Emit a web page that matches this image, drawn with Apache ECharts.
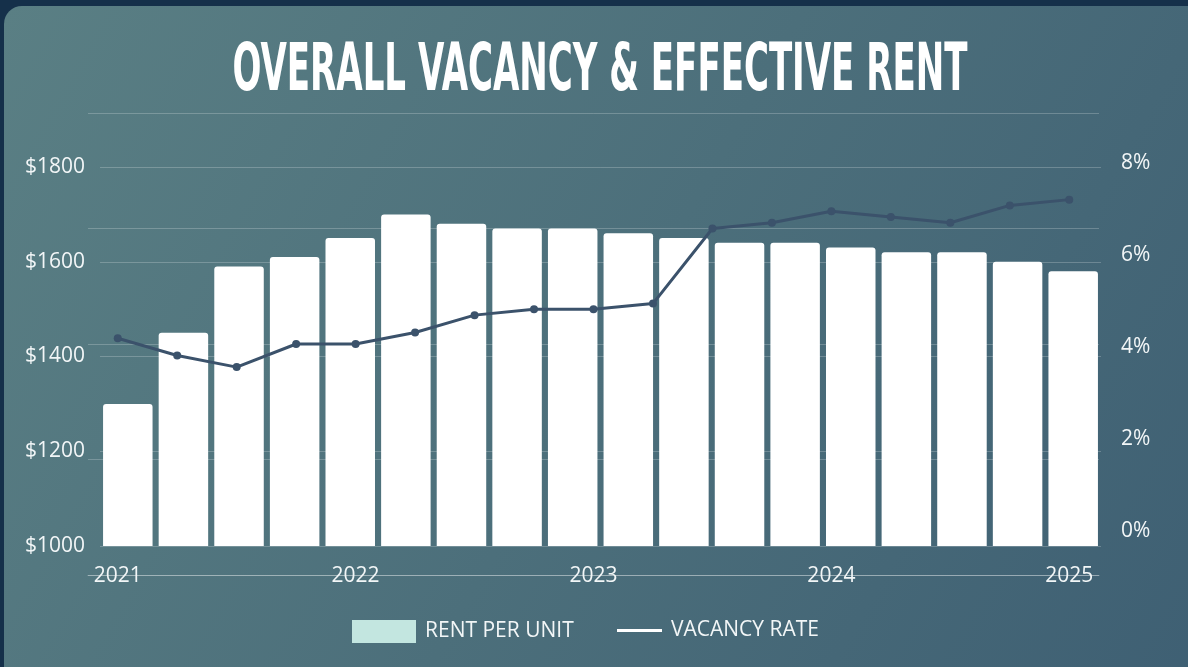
<!DOCTYPE html>
<html>
<head>
<meta charset="utf-8">
<script src="https://cdn.jsdelivr.net/npm/echarts@6/dist/echarts.min.js"></script>
<style>
  html, body { margin: 0; padding: 0; background: #15304a; }
  #chart { width: 1188px; height: 667px; }
</style>
</head>
<body>
<div id="chart"></div>
<script>
// rent per unit, 18 bars
const rentPerUnit = [1300, 1450, 1590, 1610, 1650, 1700, 1680, 1670, 1670, 1660, 1650, 1640, 1640, 1630, 1620, 1620, 1600, 1580]
const rentSlots = rentPerUnit.map((v, i) => 'R' + (i + 1))

// vacancy rate (%), quarterly 2021 Q1 .. 2025 Q1
const quarters = ['2021', 'Q2', 'Q3', 'Q4', '2022', 'Q2', 'Q3', 'Q4', '2023', 'Q2', 'Q3', 'Q4', '2024', 'Q2', 'Q3', 'Q4', '2025']
const vacancyRate = [4.1, 3.8, 3.6, 4.0, 4.0, 4.2, 4.5, 4.6, 4.6, 4.7, 6.0, 6.1, 6.3, 6.2, 6.1, 6.4, 6.5]

const labelFont = 'Open Sans'
const gridLine = 'rgba(255,255,255,0.22)'

const myChart = echarts.init(document.getElementById('chart'))

const option = {
  backgroundColor: '#15304a',
  animation: false,
  graphic: [
    {
      type: 'rect',
      z: -10,
      silent: true,
      shape: { x: 4, y: 6, width: 1210, height: 690, r: 18 },
      style: {
        fill: new echarts.graphic.LinearGradient(0, 0, 1, 1, [
          { offset: 0, color: '#5a7f84' },
          { offset: 0.5, color: '#4c6f7b' },
          { offset: 1, color: '#3e5f73' }
        ])
      }
    },
    {
      // title, condensed look
      type: 'text',
      x: 600,
      y: 73,
      scaleX: 0.86,
      scaleY: 1.5,
      style: {
        text: 'OVERALL VACANCY & EFFECTIVE RENT',
        fill: '#ffffff',
        font: 'bold 44px "DejaVu Sans Condensed"',
        textAlign: 'center',
        textVerticalAlign: 'middle'
      }
    }
  ],
  grid: [
    // bars
    { left: 100, right: 87, top: 167, bottom: 121 },
    // vacancy line
    { left: 88, right: 89, top: 113, bottom: 92 },
    // right-hand % labels
    { left: 88, right: 87, top: 163, bottom: 136 }
  ],
  legend: [
    {
      left: 347,
      top: 615,
      icon: 'rect',
      itemWidth: 64,
      itemHeight: 23,
      itemGap: 10,
      data: [{ name: 'RENT PER UNIT', itemStyle: { color: '#c3e6e0' } }],
      textStyle: { color: '#f2f6f7', fontSize: 21, fontFamily: labelFont, padding: [0, 0, 0, 4] }
    },
    {
      left: 612,
      top: 615,
      icon: 'rect',
      itemWidth: 45,
      itemHeight: 3,
      data: [{ name: 'VACANCY RATE', itemStyle: { color: '#ffffff' } }],
      textStyle: { color: '#f2f6f7', fontSize: 21, fontFamily: labelFont, padding: [0, 0, 0, 4] }
    }
  ],
  xAxis: [
    {
      type: 'category',
      gridIndex: 0,
      data: rentSlots,
      show: false
    },
    {
      type: 'category',
      gridIndex: 1,
      data: quarters,
      axisLine: { show: true, lineStyle: { color: 'rgba(255,255,255,0.3)', width: 1 } },
      axisTick: { show: false },
      axisLabel: {
        interval: 3,
        margin: -9,
        color: '#f2f6f7',
        fontSize: 21,
        fontFamily: labelFont
      }
    },
    {
      type: 'category',
      gridIndex: 2,
      data: quarters,
      show: false
    }
  ],
  yAxis: [
    {
      type: 'value',
      gridIndex: 0,
      min: 1000,
      max: 1800,
      interval: 200,
      axisLine: { show: false },
      axisTick: { show: false },
      splitLine: { lineStyle: { color: gridLine } },
      axisLabel: {
        margin: 15,
        color: '#f2f6f7',
        fontSize: 21,
        fontFamily: labelFont,
        formatter: v => '$' + v
      }
    },
    {
      type: 'value',
      gridIndex: 1,
      min: 0,
      max: 8,
      interval: 2,
      axisLine: { show: false },
      axisTick: { show: false },
      axisLabel: { show: false },
      splitLine: { lineStyle: { color: gridLine } }
    },
    {
      type: 'value',
      gridIndex: 2,
      position: 'right',
      min: 0,
      max: 8,
      interval: 2,
      axisLine: { show: false },
      axisTick: { show: false },
      splitLine: { show: false },
      axisLabel: {
        margin: 20,
        color: '#f2f6f7',
        fontSize: 21,
        fontFamily: labelFont,
        formatter: v => v + '%'
      }
    }
  ],
  series: [
    {
      name: 'RENT PER UNIT',
      type: 'bar',
      xAxisIndex: 0,
      yAxisIndex: 0,
      data: rentPerUnit,
      barCategoryGap: '11%',
      itemStyle: { color: '#ffffff', borderRadius: [3, 3, 0, 0] }
    },
    {
      name: 'VACANCY RATE',
      type: 'line',
      xAxisIndex: 1,
      yAxisIndex: 1,
      data: vacancyRate,
      z: 5,
      symbol: 'circle',
      symbolSize: 8,
      lineStyle: { color: '#3b526b', width: 3 },
      itemStyle: { color: '#3b526b' }
    }
  ]
}

myChart.setOption(option)
</script>
</body>
</html>
